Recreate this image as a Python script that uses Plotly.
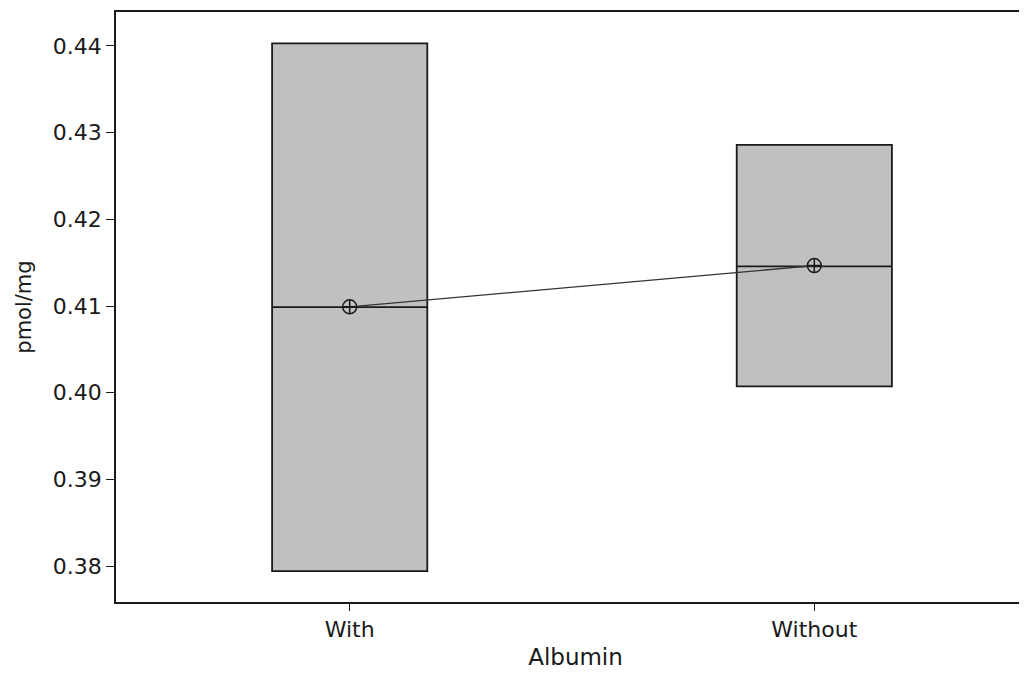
import plotly.graph_objects as go

categories = ["With", "Without"]
q1 = [0.37942, 0.40073]
median = [0.40988, 0.41458]
q3 = [0.44030, 0.42858]
means = [0.40990, 0.41466]
y_ticks = [0.38, 0.39, 0.40, 0.41, 0.42, 0.43, 0.44]

xpos = list(range(len(categories)))
font_family = "DejaVu Sans, Verdana, sans-serif"

fig = go.Figure()
for i, c in enumerate(categories):
    fig.add_trace(go.Box(
        x=[xpos[i]], q1=[q1[i]], median=[median[i]], q3=[q3[i]],
        lowerfence=[q1[i]], upperfence=[q3[i]],
        width=0.334, fillcolor="#c0c0c0",
        line=dict(color="#1a1a1a", width=1.8),
        whiskerwidth=0, showlegend=False, hoverinfo="skip", name=c,
    ))

fig.add_trace(go.Scatter(
    x=xpos, y=means, mode="lines+markers",
    line=dict(color="#333333", width=1.3),
    marker=dict(symbol="circle-cross-open", size=14, color="#1a1a1a",
                line=dict(color="#1a1a1a", width=1.5)),
    showlegend=False,
))

fig.update_layout(
    width=1027, height=674,
    margin=dict(l=108, r=0, t=4, b=80),
    paper_bgcolor="white", plot_bgcolor="white",
    font=dict(family=font_family, size=22, color="#1a1a1a"),
)
fig.update_xaxes(
    range=[-0.503, 1.475], tickmode="array", tickvals=xpos, ticktext=categories,
    showline=True, linecolor="#1a1a1a", linewidth=1.5, mirror=True,
    ticks="outside", ticklen=7, tickcolor="#1a1a1a", showgrid=False, zeroline=False,
    tickfont=dict(size=22),
    title=dict(text="Albumin", standoff=8, font=dict(size=23)),
)
fig.update_yaxes(
    range=[0.37585, 0.44392], tickmode="array", tickvals=y_ticks,
    ticktext=[f"{v:.2f}" for v in y_ticks],
    showline=True, linecolor="#1a1a1a", linewidth=1.5, mirror=False,
    ticks="outside", ticklen=8, tickcolor="#1a1a1a", showgrid=False, zeroline=False,
    tickfont=dict(size=22),
    title=dict(text="pmol/mg", standoff=16, font=dict(size=21)),
)

fig.write_html("out.html")
